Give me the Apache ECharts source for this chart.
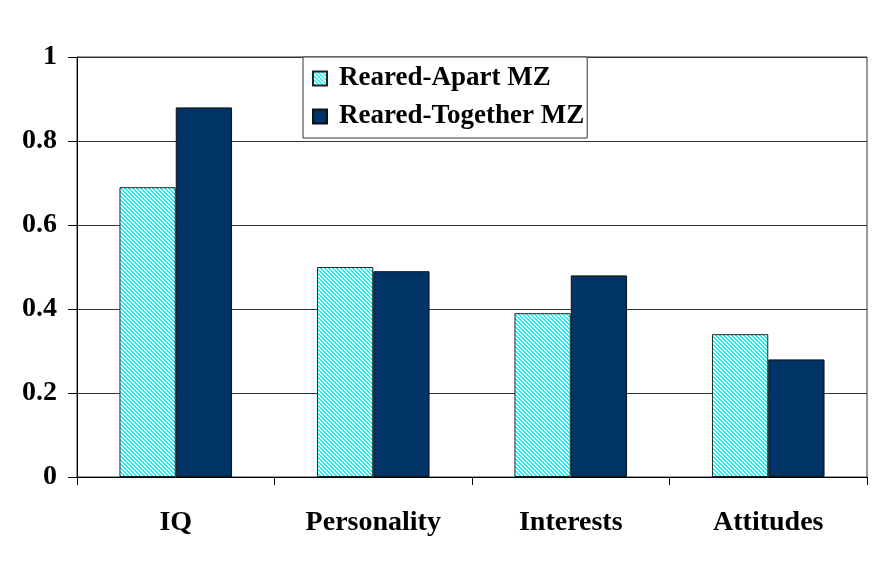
<!DOCTYPE html>
<html>
<head>
<meta charset="utf-8">
<script src="https://cdn.jsdelivr.net/npm/echarts@6/dist/echarts.min.js"></script>
<style>
  html, body { margin: 0; padding: 0; background: #fff; }
  #main { width: 892px; height: 567px; }
</style>
</head>
<body>
<div id="main"></div>
<script>
  // data
  var categories = ['IQ', 'Personality', 'Interests', 'Attitudes'];
  var apartMZ = [0.69, 0.50, 0.39, 0.34];
  var togetherMZ = [0.88, 0.49, 0.48, 0.28];
  var yTicks = [0, 0.2, 0.4, 0.6, 0.8, 1];

  // cyan diagonal hatch for reared-apart bars
  function hatch() {
    var c = document.createElement('canvas');
    c.width = 4; c.height = 4;
    var ctx = c.getContext('2d');
    ctx.fillStyle = '#ffffff';
    ctx.fillRect(0, 0, 4, 4);
    ctx.fillStyle = '#19f2f7';
    for (var y = 0; y < 4; y++) {
      for (var x = 0; x < 4; x++) {
        var d = ((x - y) % 4 + 4) % 4;
        if (d === 0 || d === 1) ctx.fillRect(x, y, 1, 1);
      }
    }
    return c;
  }

  var font = '"Liberation Serif", "Times New Roman", serif';
  var chart = echarts.init(document.getElementById('main'));
  var option = {
    animation: false,
    grid: {
      left: 77, right: 25, top: 57, bottom: 90,
      show: true, borderColor: '#333', borderWidth: 1
    },
    legend: {
      orient: 'vertical',
      left: 303, top: 57,
      padding: [8, 3, 8, 9],
      itemGap: 11,
      itemWidth: 14, itemHeight: 14,
      icon: 'rect',
      borderColor: '#333', borderWidth: 1,
      backgroundColor: '#fff',
      textStyle: { fontFamily: font, fontWeight: 'bold', fontSize: 27, color: '#000', padding: [0, 0, 0, 7] },
      data: ['Reared-Apart MZ', 'Reared-Together MZ']
    },
    xAxis: {
      type: 'category',
      data: categories,
      axisLine: { lineStyle: { color: '#000', width: 1 } },
      axisTick: { show: true, length: 8, lineStyle: { color: '#000' } },
      axisLabel: { fontFamily: font, fontWeight: 'bold', fontSize: 28, color: '#000', margin: 32 }
    },
    yAxis: {
      type: 'value',
      min: yTicks[0], max: yTicks[yTicks.length - 1], interval: 0.2,
      axisLine: { show: true, lineStyle: { color: '#000', width: 1 } },
      axisTick: { show: true, length: 9, lineStyle: { color: '#000' } },
      axisLabel: { fontFamily: font, fontWeight: 'bold', fontSize: 28, color: '#000', margin: 20 },
      splitLine: { show: true, lineStyle: { color: '#333', width: 1 } }
    },
    series: [
      {
        name: 'Reared-Apart MZ',
        type: 'bar',
        data: apartMZ,
        barGap: '0%',
        barCategoryGap: '43%',
        itemStyle: { color: { image: hatch(), repeat: 'repeat' }, borderColor: '#222', borderWidth: 1 }
      },
      {
        name: 'Reared-Together MZ',
        type: 'bar',
        data: togetherMZ,
        barGap: '0%',
        barCategoryGap: '43%',
        itemStyle: { color: '#003366', borderColor: '#111', borderWidth: 1 }
      }
    ]
  };
  chart.setOption(option);
</script>
</body>
</html>
